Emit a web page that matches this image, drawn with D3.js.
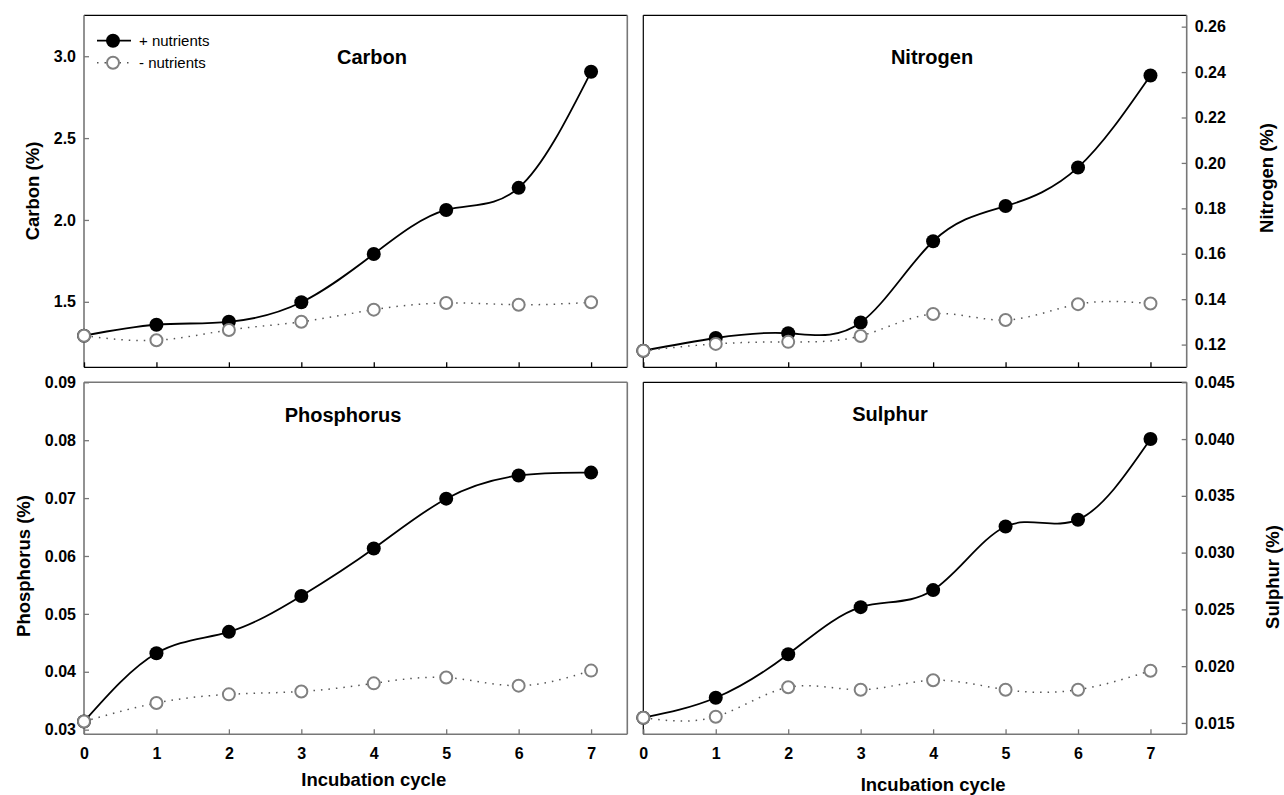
<!DOCTYPE html>
<html>
<head>
<meta charset="utf-8">
<script src="https://cdn.jsdelivr.net/npm/d3@7/dist/d3.min.js"></script>
<style>
  html, body { margin: 0; padding: 0; background: #fff; }
  svg { display: block; }
  text { font-family: "Liberation Sans", Arial, sans-serif; }
</style>
</head>
<body>
<svg id="chart" width="1284" height="795"></svg>
<script>
// ---------------- data ----------------
const cycles = [0, 1, 2, 3, 4, 5, 6, 7];
const xTicks = [0, 1, 2, 3, 4, 5, 6, 7];
const seriesNames = ["+ nutrients", "- nutrients"];

const carbonPlus  = [1.293, 1.360, 1.378, 1.497, 1.792, 2.061, 2.196, 2.905];
const carbonMinus = [1.293, 1.265, 1.328, 1.378, 1.452, 1.493, 1.482, 1.497];

const nitrogenPlus  = [0.1173, 0.1229, 0.1250, 0.1297, 0.1655, 0.1810, 0.1980, 0.2385];
const nitrogenMinus = [0.1173, 0.1203, 0.1212, 0.1238, 0.1335, 0.1308, 0.1378, 0.1381];

const phosphorusPlus  = [0.0314, 0.0432, 0.0469, 0.0531, 0.0613, 0.0699, 0.0739, 0.0744];
const phosphorusMinus = [0.0314, 0.0346, 0.0361, 0.0366, 0.0380, 0.0390, 0.0376, 0.0402];

const sulphurPlus  = [0.01546, 0.01722, 0.02105, 0.02520, 0.02670, 0.03230, 0.03290, 0.04000];
const sulphurMinus = [0.01546, 0.01555, 0.01814, 0.01793, 0.01876, 0.01793, 0.01793, 0.01960];

const carbonTicks     = [1.5, 2.0, 2.5, 3.0];
const nitrogenTicks   = [0.12, 0.14, 0.16, 0.18, 0.20, 0.22, 0.24, 0.26];
const phosphorusTicks = [0.03, 0.04, 0.05, 0.06, 0.07, 0.08, 0.09];
const sulphurTicks    = [0.015, 0.020, 0.025, 0.030, 0.035, 0.040, 0.045];

// ---------------- layout ----------------
const svg = d3.select("#chart");
const GRAY = "#777";

const panels = [
  { title: "Carbon", yTitle: "Carbon (%)", plus: carbonPlus, minus: carbonMinus, ticks: carbonTicks,
    fmt: d3.format(".1f"), domain: [1.1, 3.25], x0: 84, x1: 627.3, y0: 15.3, y1: 367.3,
    side: "left", xLabels: false, titleX: 372, titleY: 64, yTitleX: 33, yTitleY: 191 },
  { title: "Nitrogen", yTitle: "Nitrogen (%)", plus: nitrogenPlus, minus: nitrogenMinus, ticks: nitrogenTicks,
    fmt: d3.format(".2f"), domain: [0.11, 0.265], x0: 643.3, x1: 1186.7, y0: 15.3, y1: 367.3,
    side: "right", xLabels: false, titleX: 932, titleY: 64, yTitleX: 1267, yTitleY: 178 },
  { title: "Phosphorus", yTitle: "Phosphorus (%)", plus: phosphorusPlus, minus: phosphorusMinus, ticks: phosphorusTicks,
    fmt: d3.format(".2f"), domain: [0.0292, 0.09], x0: 84, x1: 627.3, y0: 382.3, y1: 734.3,
    side: "left", xLabels: true, titleX: 343, titleY: 422, yTitleX: 24, yTitleY: 566, xTitleY: 786 },
  { title: "Sulphur", yTitle: "Sulphur (%)", plus: sulphurPlus, minus: sulphurMinus, ticks: sulphurTicks,
    fmt: d3.format(".3f"), domain: [0.014, 0.045], x0: 643.3, x1: 1186.7, y0: 382.3, y1: 734.3,
    side: "right", xLabels: true, titleX: 890, titleY: 421, yTitleX: 1273, yTitleY: 577, xTitleY: 791 }
];

panels.forEach((p, i) => {
  const x = d3.scaleLinear().domain([0, 7.5]).range([p.x0, p.x1]);
  const y = d3.scaleLinear().domain(p.domain).range([p.y1, p.y0]);
  const g = svg.append("g");

  // frame lines
  const leftCol = p.side === "left";
  const bottomRow = p.xLabels;
  const edge = (x1, y1, x2, y2, c) => g.append("line")
    .attr("x1", x1).attr("y1", y1).attr("x2", x2).attr("y2", y2)
    .attr("stroke", c).attr("stroke-width", c === GRAY ? 1.6 : 1.2);
  edge(p.x0, p.y0, p.x1, p.y0, (leftCol && bottomRow) ? GRAY : "#000");          // top
  edge(p.x0, p.y1, p.x1, p.y1, bottomRow ? GRAY : "#000");                          // bottom
  edge(p.x0, p.y0, p.x0, p.y1, leftCol ? GRAY : "#000");                            // left
  edge(p.x1, p.y0, p.x1, p.y1, GRAY);                                               // right

  // y axis
  const yAxis = (leftCol ? d3.axisLeft(y) : d3.axisRight(y))
    .tickValues(p.ticks).tickFormat(p.fmt).tickSize(-5).tickPadding(8);
  const ya = g.append("g")
    .attr("transform", `translate(${leftCol ? p.x0 : p.x1},0)`)
    .call(yAxis);
  ya.select(".domain").remove();
  ya.selectAll(".tick line").attr("stroke", GRAY).attr("stroke-width", 1.3);
  ya.selectAll(".tick text").attr("font-size", 16).attr("font-weight", "bold").attr("fill", "#000")
    .attr("font-family", "Liberation Sans, Arial, sans-serif");

  // x axis
  const xAxis = d3.axisBottom(x).tickValues(xTicks).tickSize(-5).tickPadding(13)
    .tickFormat(p.xLabels ? d3.format("d") : () => "");
  const xa = g.append("g").attr("transform", `translate(0,${p.y1})`).call(xAxis);
  xa.select(".domain").remove();
  xa.selectAll(".tick line").attr("stroke", bottomRow ? GRAY : "#000").attr("stroke-width", 1.3);
  xa.selectAll(".tick text").attr("font-size", 16).attr("font-weight", "bold").attr("fill", "#000")
    .attr("font-family", "Liberation Sans, Arial, sans-serif");

  // lines
  const line = d3.line().x((d, j) => x(cycles[j])).y(d => y(d)).curve(d3.curveNatural);
  g.append("path").datum(p.plus).attr("d", line)
    .attr("fill", "none").attr("stroke", "#000").attr("stroke-width", 1.8);
  g.selectAll("circle.plus").data(p.plus).join("circle").attr("class", "plus")
    .attr("cx", (d, j) => x(cycles[j])).attr("cy", d => y(d)).attr("r", 7)
    .attr("fill", "#000");
  g.append("path").datum(p.minus).attr("d", line)
    .attr("fill", "none").attr("stroke", "#555").attr("stroke-width", 1.5)
    .attr("stroke-dasharray", "1.5,6");
  g.selectAll("circle.minus").data(p.minus).join("circle").attr("class", "minus")
    .attr("cx", (d, j) => x(cycles[j])).attr("cy", d => y(d)).attr("r", 6)
    .attr("fill", "#fff").attr("stroke", "#808080").attr("stroke-width", 2);

  // panel title
  g.append("text").attr("x", p.titleX).attr("y", p.titleY).attr("text-anchor", "middle")
    .attr("font-size", 20).attr("font-weight", "bold").text(p.title);

  // y title
  g.append("text")
    .attr("transform", `translate(${p.yTitleX},${p.yTitleY}) rotate(-90)`)
    .attr("text-anchor", "middle").attr("dy", "0.35em")
    .attr("font-size", 18.5).attr("font-weight", "bold").text(p.yTitle);

  // x title
  if (p.xLabels) {
    g.append("text").attr("x", x(4)).attr("y", p.xTitleY).attr("text-anchor", "middle")
      .attr("font-size", 18.5).attr("font-weight", "bold").text("Incubation cycle");
  }
});

// legend
const lg = svg.append("g");
const legY = [40.7, 62.7];
seriesNames.forEach((name, i) => {
  const yy = legY[i];
  const ln = lg.append("line").attr("x1", 97).attr("x2", 131).attr("y1", yy).attr("y2", yy);
  if (i === 0) {
    ln.attr("stroke", "#000").attr("stroke-width", 1.8);
    lg.append("circle").attr("cx", 113).attr("cy", yy).attr("r", 7).attr("fill", "#000");
  } else {
    ln.attr("stroke", "#555").attr("stroke-width", 1.5).attr("stroke-dasharray", "1.5,6");
    lg.append("circle").attr("cx", 113).attr("cy", yy).attr("r", 6)
      .attr("fill", "#fff").attr("stroke", "#808080").attr("stroke-width", 2);
  }
  lg.append("text").attr("x", 139).attr("y", yy).attr("dy", "0.35em")
    .attr("font-size", 15).text(name);
});
</script>
</body>
</html>
